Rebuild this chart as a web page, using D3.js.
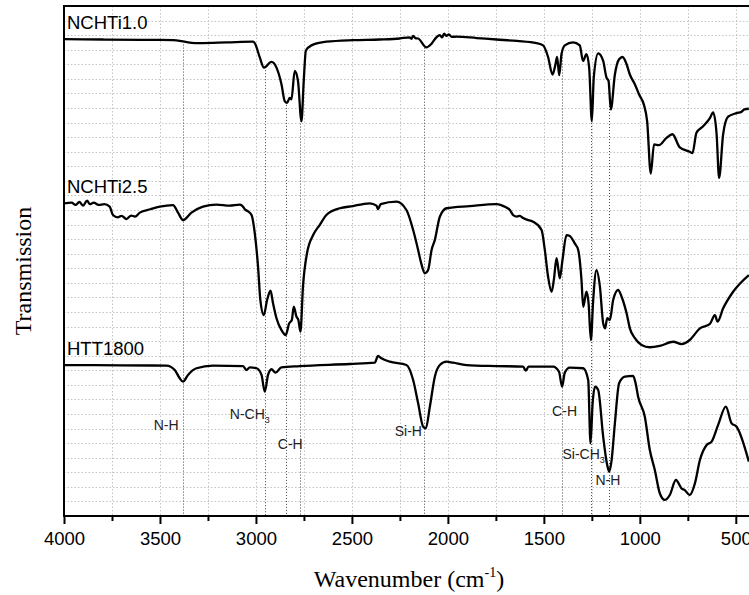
<!DOCTYPE html>
<html>
<head>
<meta charset="utf-8">
<script src="https://cdn.jsdelivr.net/npm/d3@7"></script>
<style>
  body { margin: 0; background: #fff; }
  text { fill: #000; }
</style>
</head>
<body>
<svg id="chart" width="749" height="595"></svg>
<script>
// tick labels on the wavenumber axis
const wnTicks = [4000, 3500, 3000, 2500, 2000, 1500, 1000, 500]

// spectra, [wavenumber, transmission (arbitrary offset units)]
const nchti10 = [
  [4000, 32.72], [3800, 32.7], [3600, 32.68], [3432, 32.66], [3360, 32.52], [3293, 32.45],
  [3150, 32.5], [3015, 32.55], [3006, 32.45], [2980, 31.47], [2958, 30.77], [2919, 31.16],
  [2893, 30.77], [2867, 29.63], [2850, 28.47], [2838, 28.35], [2824, 28.7], [2815, 28.6],
  [2798, 30.55], [2781, 29.86], [2763, 27.09], [2751, 29.86], [2740, 31.93], [2711, 32.3],
  [2633, 32.55], [2494, 32.66], [2355, 32.7], [2251, 32.77], [2200, 32.85], [2190, 32.75],
  [2181, 32.95], [2170, 32.8], [2155, 32.77], [2112, 32.16], [2086, 32.4], [2060, 32.85],
  [2042, 33.0], [2030, 32.85], [2020, 33.1], [2007, 32.95], [1995, 33.05], [1980, 32.88],
  [1955, 32.9], [1850, 32.8], [1747, 32.7], [1640, 32.6], [1538, 32.45], [1504, 32.3],
  [1478, 31.5], [1455, 30.3], [1441, 30.9], [1431, 31.5], [1420, 30.25], [1408, 31.7],
  [1391, 32.3], [1348, 32.5], [1313, 32.3], [1296, 31.23], [1278, 31.7], [1264, 30.77],
  [1250, 27.09], [1240, 30.1], [1217, 31.75], [1191, 31.23], [1174, 30.1], [1163, 29.86],
  [1151, 27.9], [1130, 30.3], [1108, 31.35], [1090, 31.5], [1069, 31.0], [1052, 30.3],
  [1026, 29.63], [1004, 28.93], [979, 28.23], [962, 27.1], [943, 23.5], [926, 25.5],
  [900, 25.45], [861, 25.95], [830, 26.2], [792, 25.3], [740, 25.0], [726, 24.9],
  [705, 26.3], [670, 26.75], [635, 27.3], [618, 27.7], [600, 26.2], [587, 23.2],
  [566, 26.2], [540, 27.4], [496, 27.65], [470, 27.75], [455, 27.9], [432, 27.95]
]

const nchti25 = [
  [4000, 21.46], [3960, 21.5], [3940, 21.35], [3920, 21.55], [3900, 21.3], [3880, 21.65],
  [3866, 21.4], [3845, 21.5], [3820, 21.35], [3790, 21.4], [3762, 21.23], [3745, 20.66],
  [3720, 20.5], [3700, 20.6], [3675, 20.38], [3650, 20.62], [3630, 20.55], [3605, 20.82],
  [3550, 21.05], [3501, 21.23], [3432, 21.34], [3406, 20.82], [3380, 20.31], [3336, 20.82],
  [3276, 21.23], [3206, 21.37], [3137, 21.3], [3084, 21.37], [3067, 21.23], [3058, 21.05],
  [3041, 20.9], [3023, 20.66], [3006, 19.4], [2989, 17.1], [2977, 14.82], [2959, 13.79],
  [2942, 14.82], [2924, 15.46], [2911, 14.6], [2893, 13.57], [2867, 12.76], [2845, 12.42],
  [2827, 13.22], [2813, 13.45], [2803, 14.36], [2789, 13.68], [2779, 13.45], [2768, 12.65],
  [2755, 15.74], [2734, 18.03], [2702, 19.28], [2668, 19.97], [2633, 20.66], [2563, 21.12],
  [2494, 21.27], [2442, 21.41], [2407, 21.46], [2372, 21.3], [2364, 21.05], [2350, 21.4],
  [2268, 21.57], [2216, 21.0], [2181, 19.63], [2155, 18.26], [2140, 17.4], [2120, 16.66],
  [2103, 16.88], [2085, 18.26], [2068, 18.94], [2042, 20.54], [2007, 21.12], [1886, 21.27],
  [1747, 21.41], [1700, 21.2], [1677, 21.0], [1660, 20.65], [1640, 20.55], [1625, 20.6],
  [1608, 20.45], [1580, 20.3], [1556, 20.2], [1512, 19.63], [1495, 18.26], [1478, 16.42],
  [1460, 15.39], [1448, 16.2], [1434, 17.69], [1424, 16.88], [1417, 16.31], [1403, 17.57],
  [1382, 19.28], [1365, 19.22], [1339, 18.71], [1321, 18.26], [1304, 16.2], [1295, 14.36],
  [1278, 15.39], [1267, 14.6], [1255, 12.08], [1243, 14.82], [1226, 16.88], [1208, 15.74],
  [1191, 13.22], [1181, 12.88], [1170, 13.57], [1156, 13.45], [1139, 14.82], [1113, 15.51],
  [1095, 15.05], [1069, 13.91], [1052, 12.88], [1026, 12.2], [991, 11.74], [948, 11.58],
  [896, 11.67], [826, 11.96], [783, 11.8], [740, 12.08], [687, 12.88], [635, 13.18],
  [609, 13.79], [595, 13.34], [566, 14.25], [514, 15.39], [432, 16.54]
]

const htt1800 = [
  [4000, 10.36], [3700, 10.34], [3466, 10.32], [3423, 10.02], [3397, 9.45], [3380, 9.22],
  [3354, 9.68], [3310, 10.14], [3224, 10.32], [3067, 10.29], [3050, 10.02], [3032, 10.2],
  [2997, 10.14], [2971, 9.68], [2954, 8.53], [2937, 9.68], [2919, 10.07], [2898, 9.84],
  [2867, 10.2], [2772, 10.29], [2511, 10.43], [2381, 10.52], [2364, 10.98], [2346, 10.82],
  [2303, 10.59], [2216, 10.36], [2181, 9.33], [2155, 7.73], [2129, 6.13], [2115, 6.02],
  [2094, 7.5], [2068, 9.56], [2042, 10.36], [2007, 10.59], [1973, 10.52], [1903, 10.36],
  [1747, 10.29], [1608, 10.25], [1594, 9.97], [1580, 10.25], [1452, 10.25], [1421, 9.9],
  [1405, 8.88], [1391, 9.84], [1365, 10.18], [1295, 10.14], [1269, 9.33], [1257, 4.99],
  [1246, 7.73], [1233, 8.88], [1217, 8.65], [1191, 5.44], [1170, 3.5], [1160, 3.04],
  [1147, 3.84], [1130, 6.36], [1108, 9.11], [1078, 9.56], [1035, 9.61], [1022, 9.11],
  [1009, 8.19], [974, 6.81], [948, 4.53], [922, 3.16], [896, 1.56], [870, 1.1],
  [844, 1.44], [812, 2.47], [783, 1.9], [766, 1.78], [740, 1.44], [713, 2.24],
  [687, 3.84], [652, 4.87], [626, 5.1], [592, 6.25], [552, 7.5], [522, 6.36],
  [496, 6.13], [432, 3.73]
]

const series = [
  { name: 'NCHTi1.0', values: nchti10 },
  { name: 'NCHTi2.5', values: nchti25 },
  { name: 'HTT1800', values: htt1800 }
]

// band positions marked with dotted lines
const bandLines = [3380, 2955, 2845, 2770, 2125, 1403, 1255, 1160]

// band labels: text, subscript, wavenumber / level of the label start
const bandLabels = [
  ['N-H', '', 3533, 5.9],
  ['N-CH', '3', 3136, 6.64],
  ['C-H', '', 2886, 4.62],
  ['Si-H', '', 2277, 5.49],
  ['C-H', '', 1457, 6.88],
  ['Si-CH', '3', 1403, 3.93],
  ['N-H', '', 1231, 2.11]
]

const svg = d3.select('#chart')
const mLeft = 64, mTop = 6, mBottom = 516, mRight = 755

const x = d3.scaleLinear().domain([4000, 400]).range([mLeft, mRight])
const y = d3.scaleLinear().domain([0, 35]).range([mBottom, mTop])

svg.append('defs').append('clipPath').attr('id', 'plot')
  .append('rect').attr('x', mLeft).attr('y', mTop)
  .attr('width', mRight - mLeft).attr('height', mBottom - mTop)

// grid
const grid = svg.append('g').attr('stroke', '#c4c4c4').attr('stroke-width', 1)
  .attr('stroke-dasharray', '1.5,2')
grid.selectAll('.h').data(d3.range(1, 35)).join('line')
  .attr('x1', mLeft).attr('x2', mRight)
  .attr('y1', d => Math.round(y(d)) + 0.5).attr('y2', d => Math.round(y(d)) + 0.5)
grid.selectAll('.v').data(d3.range(3750, 400, -250)).join('line')
  .attr('y1', mTop).attr('y2', mBottom)
  .attr('x1', d => Math.round(x(d)) + 0.5).attr('x2', d => Math.round(x(d)) + 0.5)

// band marker lines start at the top spectrum
const bis = d3.bisector(d => -d[0]).left
function levelAt (vals, wn) {
  const i = Math.max(1, Math.min(vals.length - 1, bis(vals, -wn)))
  const a = vals[i - 1], b = vals[i]
  return a[1] + (b[1] - a[1]) * (wn - a[0]) / (b[0] - a[0])
}
svg.append('g').attr('stroke', '#444').attr('stroke-width', 1)
  .attr('stroke-dasharray', '1,2')
  .selectAll('line').data(bandLines).join('line')
  .attr('x1', d => Math.round(x(d)) + 0.5).attr('x2', d => Math.round(x(d)) + 0.5)
  .attr('y1', d => y(levelAt(nchti10, d)) + 3).attr('y2', mBottom)

// spectra
const line = d3.line().x(d => x(d[0])).y(d => y(d[1])).curve(d3.curveMonotoneX)
svg.append('g').attr('clip-path', 'url(#plot)')
  .selectAll('path').data(series).join('path')
  .attr('fill', 'none').attr('stroke', '#000').attr('stroke-width', 2.3)
  .attr('stroke-linejoin', 'round')
  .attr('d', d => line(d.values))

// series names
svg.append('g').selectAll('text').data(series).join('text')
  .attr('x', mLeft + 3)
  .attr('y', d => y(d.values[0][1]) - 10)
  .attr('font-family', 'Liberation Sans, Arial, sans-serif')
  .attr('font-size', 18.5)
  .text(d => d.name)

// band labels
const lab = svg.append('g').selectAll('text').data(bandLabels).join('text')
  .attr('x', d => x(d[2])).attr('y', d => y(d[3]))
  .attr('font-family', 'Liberation Sans, Arial, sans-serif')
  .attr('font-size', 14).style('fill', '#222')
lab.append('tspan').text(d => d[0])
lab.append('tspan').attr('font-size', 9).attr('dy', 4).text(d => d[1])

// frame
svg.append('rect').attr('x', mLeft).attr('y', mTop)
  .attr('width', mRight - mLeft).attr('height', mBottom - mTop)
  .attr('fill', 'none').attr('stroke', '#000').attr('stroke-width', 2)

// x axis
const ax = svg.append('g').attr('transform', `translate(0,${mBottom})`)
  .call(d3.axisBottom(x).tickValues(wnTicks).tickFormat(d3.format('d'))
    .tickSize(8).tickPadding(8))
ax.select('.domain').remove()
ax.selectAll('.tick line').attr('stroke-width', 2)
ax.selectAll('.tick text')
  .attr('font-family', 'Liberation Sans, Arial, sans-serif')
  .attr('font-size', 18.5).style('fill', '#000')
svg.append('g').attr('transform', `translate(0,${mBottom})`)
  .call(d3.axisBottom(x).tickValues(d3.range(3750, 400, -500)).tickSize(5).tickFormat(''))
  .call(g => g.select('.domain').remove())
  .selectAll('.tick line').attr('stroke-width', 2)

// axis titles
const title = svg.append('text').attr('x', 409).attr('y', 587)
  .attr('text-anchor', 'middle')
  .attr('font-family', 'Liberation Serif, Times New Roman, serif')
  .attr('font-size', 24)
title.append('tspan').text('Wavenumber (cm')
title.append('tspan').attr('font-size', 14).attr('dy', -10).text('-1')
title.append('tspan').attr('dy', 10).text(')')

svg.append('text')
  .attr('transform', 'translate(31,271) rotate(-90)')
  .attr('text-anchor', 'middle')
  .attr('font-family', 'Liberation Serif, Times New Roman, serif')
  .attr('font-size', 24)
  .text('Transmission')
</script>
</body>
</html>
